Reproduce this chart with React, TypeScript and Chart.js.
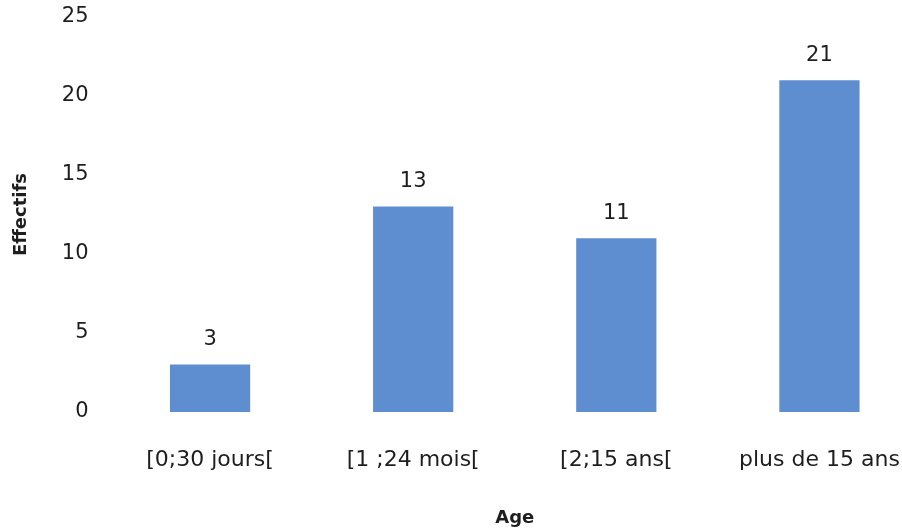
import React, { useEffect, useRef } from "react";
import { Chart, registerables } from "chart.js";

Chart.register(...registerables);

const categories = ["[0;30 jours[", "[1 ;24 mois[", "[2;15 ans[", "plus de 15 ans"];
const effectifs = [3, 13, 11, 21];
const yTicks = [0, 5, 10, 15, 20, 25];
const yTitle = "Effectifs";
const xTitle = "Age";

const FONT = "'DejaVu Sans', sans-serif";
const TEXT = "#1e1e1e";

const valueLabels = {
  id: "valueLabels",
  afterDatasetsDraw(chart: any) {
    const ctx = chart.ctx;
    ctx.save();
    ctx.font = `21px ${FONT}`;
    ctx.fillStyle = TEXT;
    ctx.textAlign = "center";
    ctx.textBaseline = "middle";
    const meta = chart.getDatasetMeta(0);
    meta.data.forEach((bar: any, i: number) => {
      ctx.fillText(String(chart.data.datasets[0].data[i]), bar.x, bar.y - 25);
    });
    ctx.restore();
  },
};

export default function App() {
  const ref = useRef<HTMLCanvasElement>(null);
  useEffect(() => {
    if (!ref.current) return;
    const chart = new Chart(ref.current, {
      type: "bar",
      data: {
        labels: categories,
        datasets: [
          {
            data: effectifs,
            backgroundColor: "#5E8ED0",
            borderWidth: 0,
            categoryPercentage: 1,
            barPercentage: 0.395,
          },
        ],
      },
      options: {
        responsive: false,
        animation: false,
        devicePixelRatio: 1,
        layout: { padding: { top: 17, left: 0, right: 0, bottom: 0 } },
        plugins: {
          legend: { display: false },
          tooltip: { enabled: false },
        },
        scales: {
          x: {
            afterFit: (scale: any) => {
              scale.height = 120;
              scale.paddingLeft = 0;
              scale.paddingRight = 0;
            },
            grid: { display: false, drawTicks: false },
            border: { display: false },
            ticks: {
              padding: 35,
              color: TEXT,
              font: { family: FONT, size: 22 },
              maxRotation: 0,
              autoSkip: false,
            },
            title: {
              display: true,
              text: xTitle,
              color: TEXT,
              font: { family: FONT, size: 18, weight: "bold" },
              padding: { top: 0, bottom: 3 },
            },
          },
          y: {
            min: yTicks[0],
            max: yTicks[yTicks.length - 1],
            afterBuildTicks: (scale: any) => {
              scale.ticks = yTicks.map((v) => ({ value: v }));
            },
            afterFit: (scale: any) => {
              scale.width = 108.5;
              scale.paddingTop = 0;
              scale.paddingBottom = 0;
            },
            grid: { display: false, drawTicks: false },
            border: { display: false },
            ticks: {
              padding: 20,
              color: TEXT,
              font: { family: FONT, size: 21 },
            },
            title: {
              display: true,
              text: yTitle,
              color: TEXT,
              font: { family: FONT, size: 18, weight: "bold" },
              padding: { top: 11, bottom: 0 },
            },
          },
        },
      },
      plugins: [valueLabels],
    });
    return () => chart.destroy();
  }, []);
  return (
    <div
      style={{
        position: "fixed",
        left: 0,
        top: 0,
        width: 902,
        height: 532,
        overflow: "hidden",
        background: "#fff",
      }}
    >
      <canvas ref={ref} width={921} height={532} style={{ display: "block" }} />
    </div>
  );
}
